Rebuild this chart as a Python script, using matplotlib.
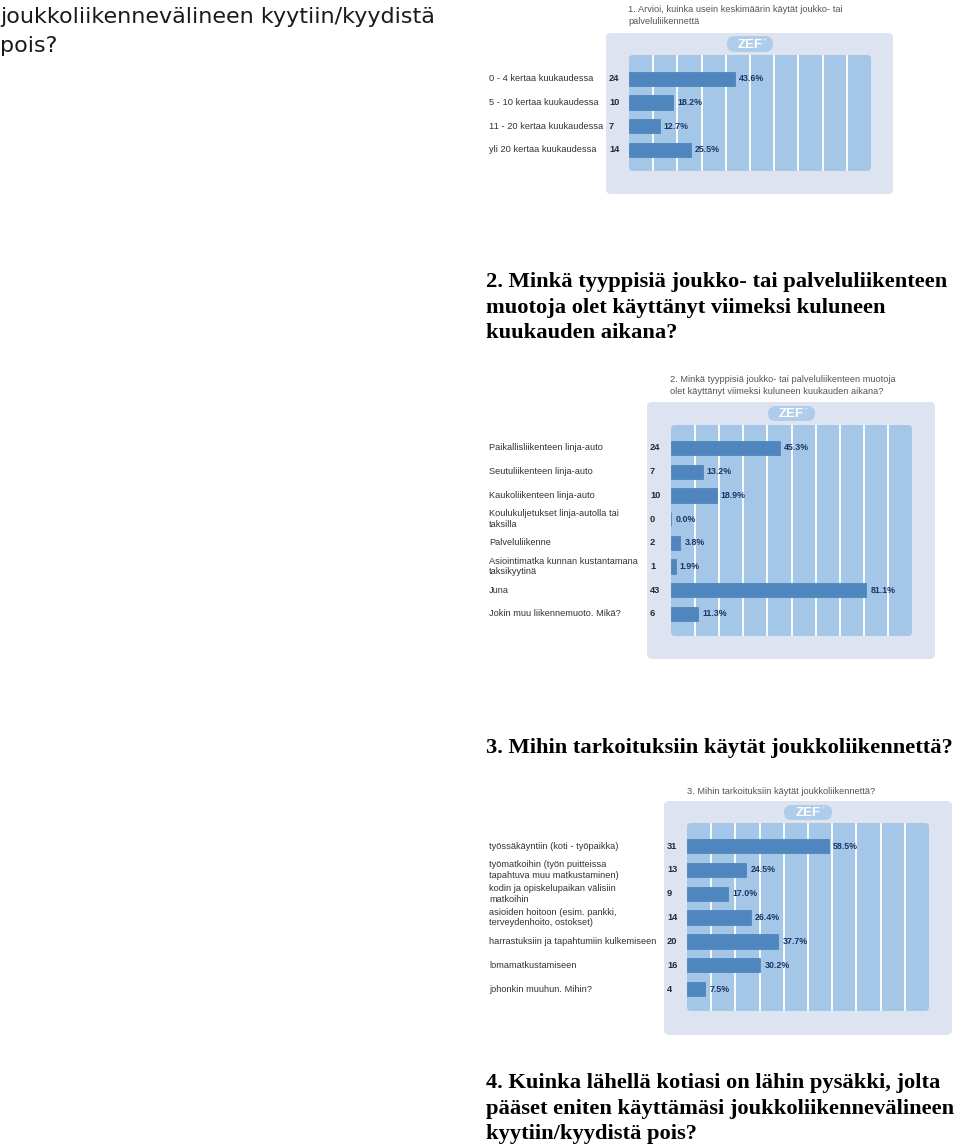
import matplotlib
matplotlib.use('Agg')
import matplotlib.pyplot as plt
from matplotlib.patches import FancyBboxPatch
from matplotlib.transforms import blended_transform_factory

# kysymys 1
q1_title = ["1. Arvioi, kuinka usein keskimäärin käytät joukko- tai",
            "palveluliikennettä"]
q1_labels = ["0 - 4 kertaa kuukaudessa", "5 - 10 kertaa kuukaudessa",
             "11 - 20 kertaa kuukaudessa", "yli 20 kertaa kuukaudessa"]
q1_counts = [24, 10, 7, 14]
q1_pcts = [43.6, 18.2, 12.7, 25.5]

# kysymys 2
q2_title = ["2. Minkä tyyppisiä joukko- tai palveluliikenteen muotoja",
            "olet käyttänyt viimeksi kuluneen kuukauden aikana?"]
q2_labels = ["Paikallisliikenteen linja-auto", "Seutuliikenteen linja-auto",
             "Kaukoliikenteen linja-auto", "Koulukuljetukset linja-autolla tai\ntaksilla",
             "Palveluliikenne", "Asiointimatka kunnan kustantamana\ntaksikyytinä",
             "Juna", "Jokin muu liikennemuoto. Mikä?"]
q2_counts = [24, 7, 10, 0, 2, 1, 43, 6]
q2_pcts = [45.3, 13.2, 18.9, 0.0, 3.8, 1.9, 81.1, 11.3]

# kysymys 3
q3_title = ["3. Mihin tarkoituksiin käytät joukkoliikennettä?"]
q3_labels = ["työssäkäyntiin (koti - työpaikka)",
             "työmatkoihin (työn puitteissa\ntapahtuva muu matkustaminen)",
             "kodin ja opiskelupaikan välisiin\nmatkoihin",
             "asioiden hoitoon (esim. pankki,\nterveydenhoito, ostokset)",
             "harrastuksiin ja tapahtumiin kulkemiseen",
             "lomamatkustamiseen", "johonkin muuhun. Mihin?"]
q3_counts = [31, 13, 9, 14, 20, 16, 4]
q3_pcts = [58.5, 24.5, 17.0, 26.4, 37.7, 30.2, 7.5]

top_lines = ["joukkoliikennevälineen kyytiin/kyydistä", "pois?"]
head2 = ["2. Minkä tyyppisiä joukko- tai palveluliikenteen",
         "muotoja olet käyttänyt viimeksi kuluneen",
         "kuukauden aikana?"]
head3 = ["3. Mihin tarkoituksiin käytät joukkoliikennettä?"]
head4 = ["4. Kuinka lähellä kotiasi on lähin pysäkki, jolta",
         "pääset eniten käyttämäsi joukkoliikennevälineen",
         "kyytiin/kyydistä pois?"]

panel_c = '#dde3f0'
inner_c = '#a4c7e7'
pill_c = '#afcdea'
bar_c = '#4f86be'
pct_c = '#1c3468'

W, H = 960, 1147
fig = plt.figure(figsize=(W / 100, H / 100), dpi=100)
bg = fig.add_axes([0, 0, 1, 1])
bg.set_xlim(0, W)
bg.set_ylim(H, 0)
bg.axis('off')


def rbox(x0, y0, x1, y1, r, c):
    bg.add_patch(FancyBboxPatch((x0, y0), x1 - x0, y1 - y0,
                                boxstyle="round,pad=0,rounding_size=%g" % r,
                                fc=c, ec='none'))


def chart(panel, pill, inner, tx, ty, title, labels, counts, pcts,
          label_x, count_x, pad_top, pad_bot):
    rbox(*panel, 5, panel_c)
    rbox(*pill, (pill[3] - pill[1]) / 2, pill_c)
    cx = (pill[0] + pill[2]) / 2
    cy = (pill[1] + pill[3]) / 2
    bg.text(cx, cy + 0.5, "ZEF", color='white', fontsize=9.5, fontweight='bold',
            ha='center', va='center', family='Liberation Sans')
    bg.text(cx + 14, cy - 4, "®", color='white', fontsize=3, ha='center', va='center')
    rbox(*inner, 4, inner_c)
    for i, line in enumerate(title):
        bg.text(tx, ty + i * 12, line, fontsize=6.7, color='#555555', va='center',
                family='Liberation Sans')

    ix0, iy0, ix1, iy1 = inner
    ax = fig.add_axes([ix0 / W, 1 - iy1 / H, (ix1 - ix0) / W, (iy1 - iy0) / H])
    ax.patch.set_visible(False)
    n = len(labels)
    ax.set_xlim(0, 100)
    ax.set_ylim(n - 1 + pad_bot, -pad_top)
    for v in range(10, 100, 10):
        ax.axvline(v, color='white', lw=1.3, zorder=1)
    ys = list(range(n))
    ax.barh(ys, pcts, height=0.6, color=bar_c, ec=bar_c, lw=0.6, zorder=2)
    for s in ax.spines.values():
        s.set_visible(False)
    ax.set_xticks([])
    ax.set_yticks([])

    tr = blended_transform_factory(bg.transData, ax.transData)
    for i in ys:
        ax.text(label_x, i, labels[i], transform=tr, fontsize=6.7, color='#333333',
                va='center', linespacing=1.25, family='Liberation Sans')
        ax.text(count_x, i, str(counts[i]), transform=tr, fontsize=6.7,
                color='#2a2a2a', fontweight='bold', va='center', family='Liberation Sans')
        ax.annotate('%.1f%%' % pcts[i], (pcts[i], i), xytext=(3, 0),
                    textcoords='offset points', va='center', fontsize=6.4,
                    color=pct_c, fontweight='bold', family='Liberation Sans',
                    annotation_clip=False)


# tekstit
for i, line in enumerate(top_lines):
    bg.text(0, 23 + i * 29, line, fontsize=16, color='#1a1a1a',
            family='DejaVu Sans', va='baseline')
for lines, y0 in [(head2, 287), (head3, 753), (head4, 1088)]:
    for i, line in enumerate(lines):
        bg.text(486, y0 + i * 25.7, line, fontsize=16.2, color='black',
                fontweight='bold', family='Liberation Serif', va='baseline')

chart((606, 33, 893, 194), (727, 36, 773, 52), (629, 55, 871, 171),
      628, 10, q1_title, q1_labels, q1_counts, q1_pcts, 489, 609, 1.01, 0.89)
chart((647, 402, 935, 659), (768, 406, 815, 421), (671, 425, 912, 636),
      670, 379, q2_title, q2_labels, q2_counts, q2_pcts, 489, 650, 0.97, 0.93)
chart((664, 801, 952, 1035), (784, 805, 832, 820), (687, 823, 929, 1011),
      687, 792, q3_title, q3_labels, q3_counts, q3_pcts, 489, 667, 0.97, 0.92)

fig.savefig('out.png', dpi=100)
